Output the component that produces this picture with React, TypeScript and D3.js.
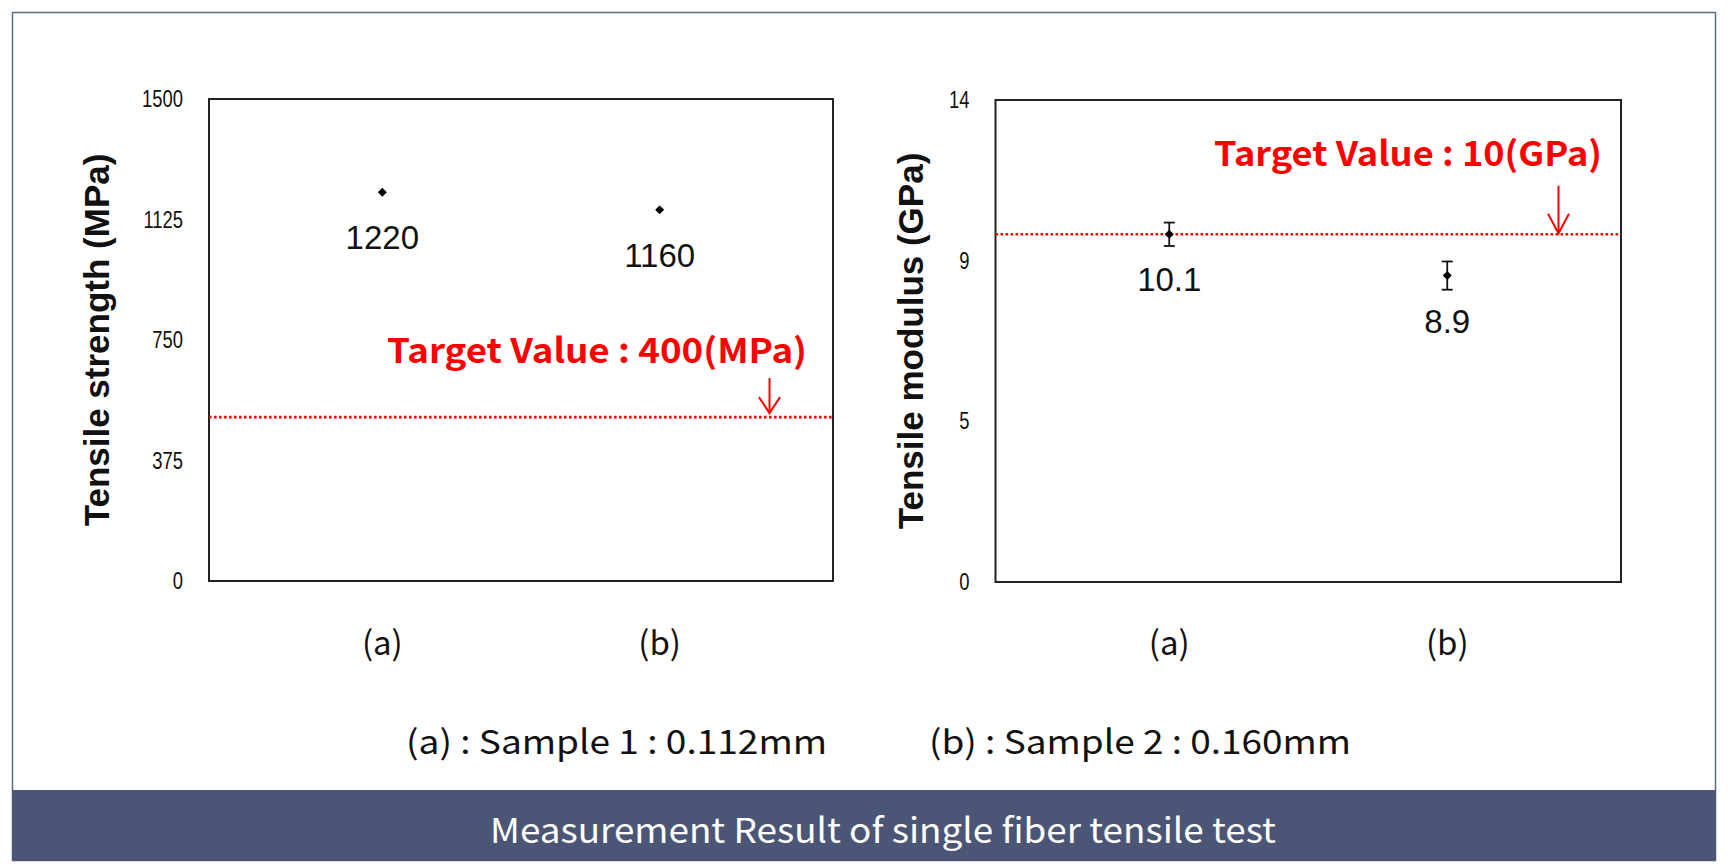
import React from "react";
import * as d3 from "d3";

// ---- data ----
const categories = ["(a)", "(b)"];
const strengthValues = [1210, 1155];
const strengthLabels = ["1220", "1160"];
const strengthTicks = [0, 375, 750, 1125, 1500];
const strengthTickLabels = ["0", "375", "750", "1125", "1500"];
const strengthTarget = 510;
const strengthTargetText = "Target Value : 400(MPa)";

const modulusValues = [10.1, 8.9];
const modulusErrors = [0.34, 0.41];
const modulusLabels = ["10.1", "8.9"];
const modulusTicks = [0, 4.667, 9.333, 14];
const modulusTickLabels = ["0", "5", "9", "14"];
const modulusTarget = 10.1;
const modulusTargetText = "Target Value : 10(GPa)";

const legendItems = ["(a) : Sample 1 : 0.112mm", "(b) : Sample 2 : 0.160mm"];
const caption = "Measurement Result of single fiber tensile test";

const RED = "#ff0000";
const KFONT = "'Noto Sans CJK KR', 'Open Sans', sans-serif";
const AFONT = "'Liberation Sans', Arial, sans-serif";

type PanelProps = {
  x0: number; x1: number; y0: number; y1: number;
  domainMax: number;
  ticks: number[]; tickLabels: string[];
  values: number[]; labels: string[]; errors?: number[];
  title: string; titleX: number;
  target: number; targetText: string; targetTextX: number; targetTextLen: number; targetTextDy: number;
  arrowDx: number; arrowLen: number; arrowGap: number; arrowWing: number;
};

function Panel(p: PanelProps) {
  const y = d3.scaleLinear().domain([0, p.domainMax]).range([p.y1, p.y0]);
  const x = d3.scalePoint<string>().domain(categories).range([p.x0, p.x1]).padding(0.625);
  const diamond = d3.symbol().type(d3.symbolSquare).size(40)();
  const ty = y(p.target);
  const ax = p.x0 + p.arrowDx;
  const tip = ty - p.arrowGap;
  return (
    <g>
      <rect x={p.x0} y={p.y0} width={p.x1 - p.x0} height={p.y1 - p.y0} fill="none" stroke="#222" strokeWidth={2} />
      {p.ticks.map((t, i) => (
        <text key={i} transform={`translate(${p.x0 - 26},${y(t)}) scale(0.8,1)`} dy="0.35em" textAnchor="end"
          fontFamily={AFONT} fontSize={23} fill="#111">
          {p.tickLabels[i]}
        </text>
      ))}
      <text transform={`translate(${p.titleX},${(p.y0 + p.y1) / 2}) rotate(-90)`} textAnchor="middle" fontFamily={AFONT}
        fontWeight="bold" fontSize={35} fill="#111">{p.title}</text>
      <line x1={p.x0} x2={p.x1} y1={ty} y2={ty} stroke={RED} strokeWidth={2.6} strokeDasharray="2.6 2.4" />
      <text x={p.x0 + p.targetTextX} y={ty - p.targetTextDy} fontFamily={KFONT} fontWeight="bold" fontSize={34}
        fill={RED} textLength={p.targetTextLen} lengthAdjust="spacingAndGlyphs">{p.targetText}</text>
      <line x1={ax} x2={ax} y1={tip - p.arrowLen} y2={tip} stroke={RED} strokeWidth={2} />
      <polyline points={`${ax - 10.5},${tip - p.arrowWing} ${ax},${tip} ${ax + 10.5},${tip - p.arrowWing}`} fill="none" stroke={RED} strokeWidth={2} />
      {categories.map((c, i) => {
        const cx = x(c) as number;
        const cy = y(p.values[i]);
        return (
          <g key={c}>
            {p.errors && (
              <g stroke="#111" strokeWidth={1.8}>
                <line x1={cx} x2={cx} y1={y(p.values[i] + p.errors[i])} y2={y(p.values[i] - p.errors[i])} />
                <line x1={cx - 5.5} x2={cx + 5.5} y1={y(p.values[i] + p.errors[i])} y2={y(p.values[i] + p.errors[i])} />
                <line x1={cx - 5.5} x2={cx + 5.5} y1={y(p.values[i] - p.errors[i])} y2={y(p.values[i] - p.errors[i])} />
              </g>
            )}
            <path d={diamond as string} transform={`translate(${cx},${cy}) rotate(45)`} fill="#000" />
            <text x={cx} y={cy + 57} textAnchor="middle" fontFamily={AFONT} fontSize={33} fill="#111">{p.labels[i]}</text>
            <text x={cx} y={655} textAnchor="middle" fontFamily={KFONT} fontSize={33} fill="#111">{c}</text>
          </g>
        );
      })}
    </g>
  );
}

export default function App() {
  return (
    <svg width={1728} height={868} style={{ position: "absolute", left: 0, top: 0, background: "#fff" }}>
      <rect x={0} y={0} width={1728} height={868} fill="#fff" />
      <rect x={12.5} y={12.5} width={1703} height={848} fill="none" stroke="#5f6a8a" strokeWidth={1.5} />
      <Panel x0={209} x1={833} y0={99} y1={581} domainMax={1500} ticks={strengthTicks} tickLabels={strengthTickLabels}
        values={strengthValues} labels={strengthLabels} title="Tensile strength (MPa)" titleX={109}
        target={strengthTarget} targetText={strengthTargetText} targetTextX={178} targetTextLen={420} targetTextDy={54}
        arrowDx={560.5} arrowLen={35} arrowGap={4} arrowWing={16} />
      <Panel x0={995.5} x1={1621} y0={100} y1={582} domainMax={14} ticks={modulusTicks} tickLabels={modulusTickLabels}
        values={modulusValues} labels={modulusLabels} errors={modulusErrors} title="Tensile modulus (GPa)" titleX={922.5}
        target={modulusTarget} targetText={modulusTargetText} targetTextX={218.5} targetTextLen={388} targetTextDy={68}
        arrowDx={563} arrowLen={47.5} arrowGap={1} arrowWing={19.5} />
      <text x={406} y={754} fontFamily={KFONT} fontSize={33} fill="#111" textLength={421} lengthAdjust="spacingAndGlyphs">{legendItems[0]}</text>
      <text x={929} y={754} fontFamily={KFONT} fontSize={33} fill="#111" textLength={422} lengthAdjust="spacingAndGlyphs">{legendItems[1]}</text>
      <rect x={12} y={790} width={1704} height={71} fill="#4b5677" />
      <text x={490} y={843} fontFamily={KFONT} fontSize={34} fill="#fff" textLength={786} lengthAdjust="spacingAndGlyphs">{caption}</text>
    </svg>
  );
}
